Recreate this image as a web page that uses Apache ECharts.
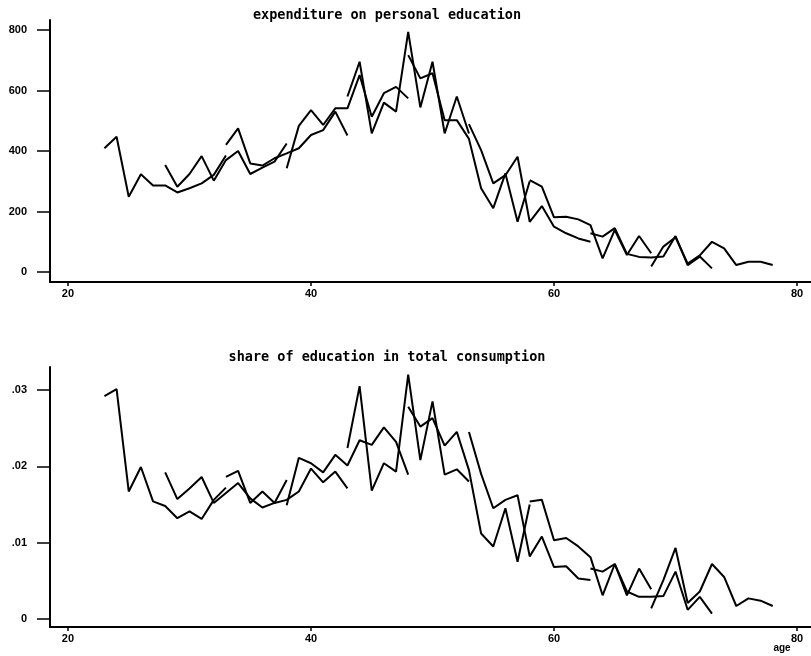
<!DOCTYPE html>
<html>
<head>
<meta charset="utf-8">
<script src="https://cdn.jsdelivr.net/npm/echarts@6/dist/echarts.min.js"></script>
<style>
html,body{margin:0;padding:0;background:#fff;}
#chart{width:811px;height:656px;}
</style>
</head>
<body>
<div id="chart"></div>
<script>
// Cohort start ages (each cohort observed over 11 consecutive ages)
const cohortStarts = [23, 28, 33, 38, 43, 48, 53, 58, 63, 68];

// expenditure on personal education, one array per cohort
const exp23 = [409, 447, 249, 323, 286, 286, 263, 277, 293, 321, 385];
const exp28 = [354, 282, 324, 383, 302, 370, 400, 324, 345, 365, 425];
const exp33 = [420, 475, 359, 352, 376, 392, 409, 453, 469, 530, 451];
const exp38 = [343, 483, 535, 486, 541, 541, 651, 513, 591, 612, 574];
const exp43 = [580, 695, 458, 560, 530, 794, 544, 695, 458, 580, 458];
const exp48 = [717, 640, 657, 502, 502, 440, 277, 211, 326, 166, 300];
const exp53 = [489, 403, 293, 320, 381, 166, 218, 150, 128, 111, 100];
const exp58 = [304, 282, 181, 183, 174, 155, 45, 139, 56, 119, 62];
const exp63 = [128, 117, 145, 60, 50, 48, 51, 119, 23, 51, 12];
const exp68 = [18, 84, 115, 28, 55, 100, 78, 23, 34, 34, 23];

// share of education in total consumption, one array per cohort
const share23 = [.0292, .0301, .0167, .0199, .0154, .0148, .0132, .0141, .0131, .0156, .0172];
const share28 = [.0192, .0157, .0171, .0186, .0152, .0165, .0178, .0158, .0146, .0152, .0182];
const share33 = [.0186, .0194, .0152, .0167, .0152, .0156, .0167, .0197, .0179, .0193, .0171];
const share38 = [.0149, .0211, .0204, .0192, .0215, .0201, .0234, .0228, .0251, .0232, .0189];
const share43 = [.0224, .0305, .0168, .0204, .0193, .0320, .0208, .0285, .0189, .0196, .0180];
const share48 = [.0278, .0252, .0263, .0227, .0245, .0195, .0112, .0095, .0145, .0075, .0150];
const share53 = [.0245, .0190, .0145, .0156, .0162, .0082, .0108, .0068, .0069, .0053, .0051];
const share58 = [.0154, .0156, .0103, .0106, .0095, .0081, .0031, .0072, .0031, .0066, .0039];
const share63 = [.0066, .0062, .0072, .0036, .0029, .0029, .0030, .0062, .0012, .0029, .0007];
const share68 = [.0014, .0051, .0093, .0021, .0036, .0072, .0055, .0017, .0027, .0024, .0017];

// tick labels
const ageTicks = [20, 40, 60, 80];
const expTicks = [0, 200, 400, 600, 800];
const shareTicks = [0, 0.01, 0.02, 0.03];

const titleTop = 'expenditure on personal education';
const titleBottom = 'share of education in total consumption';
const xName = 'age';

const expCohorts = [exp23, exp28, exp33, exp38, exp43, exp48, exp53, exp58, exp63, exp68];
const shareCohorts = [share23, share28, share33, share38, share43, share48, share53, share58, share63, share68];

function toPoints(start, vals) {
  return vals.map((v, i) => [start + i, v]);
}

const series = [];
expCohorts.forEach((vals, k) => {
  series.push({
    type: 'line', xAxisIndex: 0, yAxisIndex: 0,
    data: toPoints(cohortStarts[k], vals),
    showSymbol: false, symbol: 'none', silent: true,
    lineStyle: { color: '#000', width: 2 }, animation: false
  });
});
shareCohorts.forEach((vals, k) => {
  series.push({
    type: 'line', xAxisIndex: 1, yAxisIndex: 1,
    data: toPoints(cohortStarts[k], vals),
    showSymbol: false, symbol: 'none', silent: true,
    lineStyle: { color: '#000', width: 2 }, animation: false
  });
});

const labelFont = { color: '#000', fontWeight: 'bold', fontSize: 11, fontFamily: 'Liberation Sans, Arial, sans-serif' };

function xAxisCfg(gridIndex) {
  return {
    type: 'value', gridIndex, min: 18.52, max: 81.15,
    axisLine: { show: true, onZero: false, lineStyle: { color: '#000', width: 2 } },
    axisTick: { show: true, customValues: ageTicks, length: 4, lineStyle: { color: '#000', width: 1.5 } },
    axisLabel: Object.assign({ customValues: ageTicks, margin: 6 }, labelFont),
    splitLine: { show: false }
  };
}
function yAxisCfg(gridIndex, min, max, ticks, fmt) {
  return {
    type: 'value', gridIndex, min, max,
    axisLine: { show: true, onZero: false, lineStyle: { color: '#000', width: 2 } },
    axisTick: { show: true, customValues: ticks, length: 13, lineStyle: { color: '#000', width: 1.5 } },
    axisLabel: Object.assign({ customValues: ticks, margin: 23, formatter: fmt }, labelFont),
    splitLine: { show: false }
  };
}

const chart = echarts.init(document.getElementById('chart'), null, { renderer: 'canvas' });
chart.setOption({
  backgroundColor: '#fff',
  animation: false,
  grid: [
    { left: 50, top: 20, width: 761, height: 262 },
    { left: 50, top: 367, width: 761, height: 260 }
  ],
  xAxis: [xAxisCfg(0), xAxisCfg(1)],
  yAxis: [
    yAxisCfg(0, -33, 833, expTicks, v => String(v)),
    yAxisCfg(1, -0.00105, 0.0330, shareTicks, v => v === 0 ? '0' : v.toFixed(2).replace(/^0/, ''))
  ],
  graphic: [
    { type: 'text', x: 387, y: 15, style: { text: titleTop, textAlign: 'center', textVerticalAlign: 'middle', fill: '#000', font: 'bold 13.5px "DejaVu Sans Mono", monospace' } },
    { type: 'text', x: 387, y: 357, style: { text: titleBottom, textAlign: 'center', textVerticalAlign: 'middle', fill: '#000', font: 'bold 13.5px "DejaVu Sans Mono", monospace' } },
    { type: 'text', x: 782, y: 648, style: { text: xName, textAlign: 'center', textVerticalAlign: 'middle', fill: '#000', font: 'bold 10px "Liberation Sans", Arial, sans-serif' } }
  ],
  series
});
</script>
</body>
</html>
